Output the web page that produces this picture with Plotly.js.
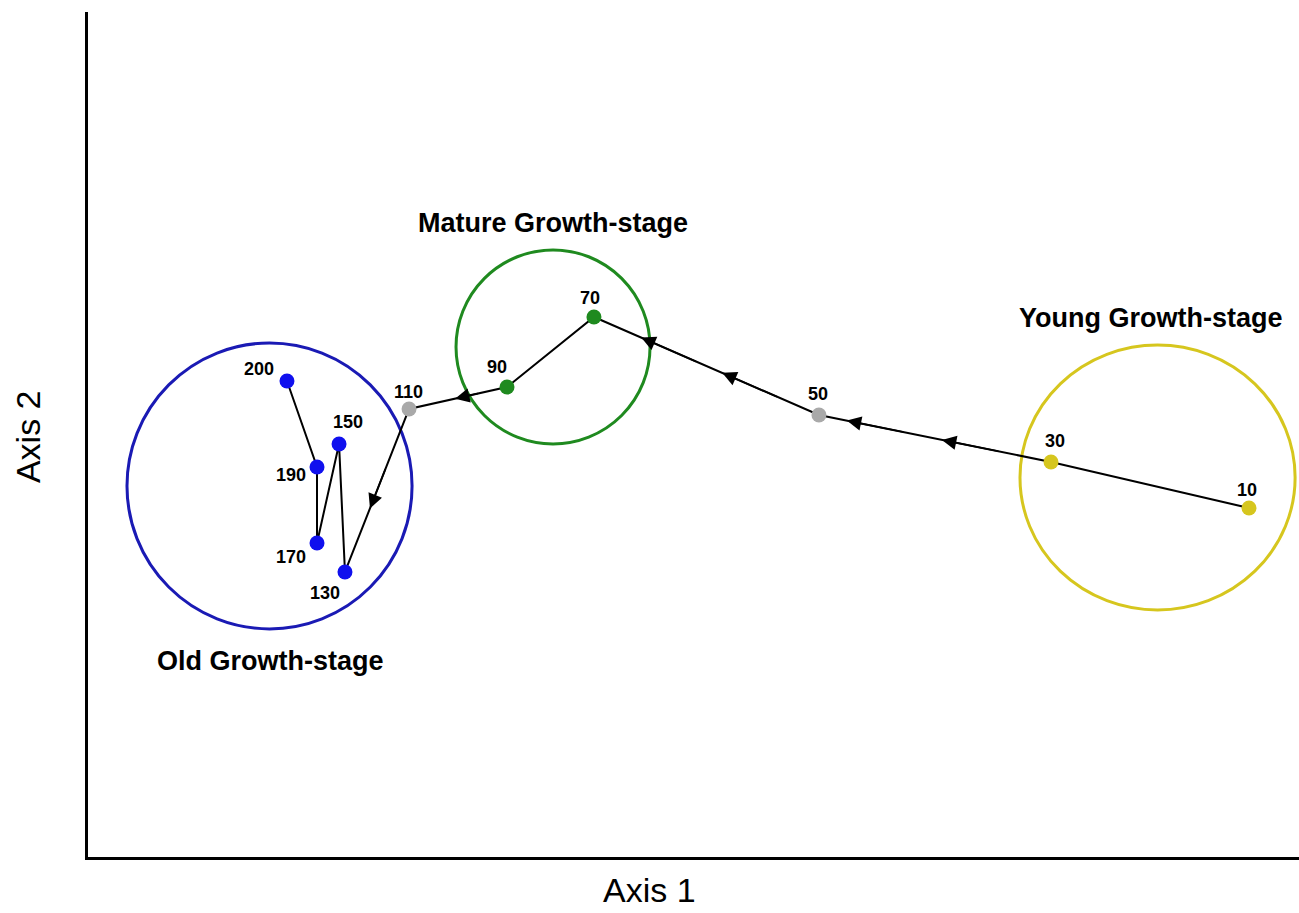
<!DOCTYPE html>
<html>
<head>
<meta charset="utf-8">
<script src="https://cdn.plot.ly/plotly-3.0.1.min.js"></script>
<style>html,body{margin:0;padding:0;background:#fff;}#chart{width:1299px;height:913px;}</style>
</head>
<body>
<div id="chart"></div>
<script>
// Successional trajectory (ordination scores, arbitrary units)
const ages   = ["10","30","50","70","90","110","130","150","170","190","200"];
const axis1  = [95.87, 79.52, 60.36, 41.78, 34.60, 26.51, 21.22, 20.73, 18.91, 18.91, 16.43];
const axis2  = [41.30, 46.75, 52.31, 63.91, 55.62, 53.02, 33.73, 48.88, 37.16, 46.15, 56.33];
const stage  = ["young","young","trans","mature","mature","trans","old","old","old","old","old"];

// Growth-stage groups: name, centre (axis1, axis2), radii in axis units
const groupNames  = ["Young Growth-stage","Mature Growth-stage","Old Growth-stage"];
const groupCx     = [88.32, 38.40, 14.99];
const groupCy     = [44.91, 60.36, 43.91];
const groupRx     = [11.36, 8.01, 11.77];
const groupRy     = [15.68, 11.48, 16.92];
const groupLabelX = [87.78, 38.40, 15.11];
const groupLabelY = [63.79, 75.03, 23.20];

// Arrows: segment index (from point i to i+1) and fraction along segment
const arrowSeg  = [1, 1, 2, 2, 4, 5];
const arrowFrac = [0.47, 0.88, 0.43, 0.79, 0.53, 0.61];

// ---- styling ----
const stageColors = {young:"#d6c61e", trans:"#a9a9a9", mature:"#1f8a1f", old:"#1010ee"};
const groupColors = ["#d6c61e","#1f8a1f","#1a1ab4"];
const labelDx = [-2, 4, -1, -4, -10, -1, -20, 9, -26, -26, -28];
const labelDy = [-18, -21, -21, -19, -20, -17, 21, -22, 14, 8, -12];
const FONT = "Arial, Liberation Sans, sans-serif";

const trace = {
  x: axis1, y: axis2,
  mode: "lines+markers",
  type: "scatter",
  line: {color: "#000", width: 2},
  marker: {size: 15, color: stage.map(s => stageColors[s])},
  cliponaxis: false,
  hoverinfo: "skip"
};

const shapes = groupNames.map((n, i) => ({
  type: "circle", xref: "x", yref: "y",
  x0: groupCx[i] - groupRx[i], x1: groupCx[i] + groupRx[i],
  y0: groupCy[i] - groupRy[i], y1: groupCy[i] + groupRy[i],
  line: {color: groupColors[i], width: 3}, layer: "below"
}));

const annotations = [];
groupNames.forEach((n, i) => annotations.push({
  x: groupLabelX[i], y: groupLabelY[i], xref: "x", yref: "y",
  text: "<b>" + n + "</b>", showarrow: false,
  xanchor: "center", yanchor: "middle",
  font: {family: FONT, size: 27, color: "#000"}
}));
ages.forEach((a, i) => annotations.push({
  x: axis1[i], y: axis2[i], xref: "x", yref: "y",
  text: "<b>" + a + "</b>", showarrow: false,
  xanchor: "center", yanchor: "middle",
  xshift: labelDx[i], yshift: -labelDy[i],
  font: {family: FONT, size: 18, color: "#000"}
}));
arrowSeg.forEach((s, k) => {
  const f = arrowFrac[k];
  const dx = axis1[s+1] - axis1[s], dy = axis2[s+1] - axis2[s];
  const tx = axis1[s] + dx * f;
  const ty = axis2[s] + dy * f;
  const back = 0.25;
  annotations.push({
    x: tx, y: ty, ax: tx - dx * back, ay: ty - dy * back,
    xref: "x", yref: "y", axref: "x", ayref: "y",
    showarrow: true, arrowhead: 2, arrowsize: 1.8, arrowwidth: 1.6, arrowcolor: "#000",
    standoff: 0, startstandoff: 0, text: ""
  });
});
annotations.push({
  xref: "paper", yref: "paper", x: 0.464, y: -0.039, text: "Axis 1", showarrow: false,
  xanchor: "center", yanchor: "middle",
  font: {family: FONT, size: 34, color: "#000"}
});
annotations.push({
  xref: "paper", yref: "paper", x: -0.0495, y: 0.497, text: "Axis 2", showarrow: false,
  xanchor: "center", yanchor: "middle", textangle: -90,
  font: {family: FONT, size: 34, color: "#000"}
});

const layout = {
  width: 1299, height: 913,
  margin: {l: 88, r: 0, t: 12, b: 56},
  paper_bgcolor: "#fff", plot_bgcolor: "#fff",
  showlegend: false,
  xaxis: {range: [0, 100], showline: true, linewidth: 3, linecolor: "#000", showgrid: false,
          zeroline: false, showticklabels: false, ticks: ""},
  yaxis: {range: [0, 100], showline: true, linewidth: 3, linecolor: "#000", showgrid: false,
          zeroline: false, showticklabels: false, ticks: ""},
  shapes: shapes,
  annotations: annotations
};

Plotly.newPlot("chart", [trace], layout, {displayModeBar: false, staticPlot: true});
</script>
</body>
</html>
